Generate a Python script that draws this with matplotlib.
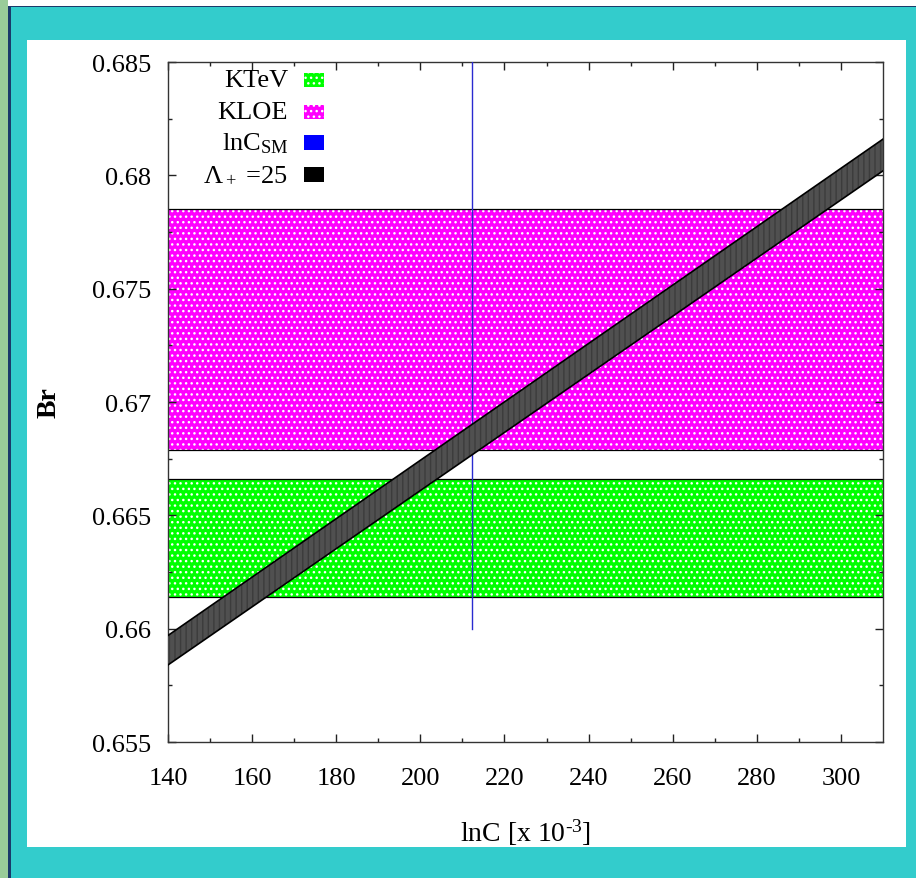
import matplotlib
matplotlib.use("Agg")
import numpy as np
import matplotlib.pyplot as plt
from matplotlib.patches import Rectangle

plt.rcParams["font.family"] = ["Liberation Serif", "DejaVu Serif"]
plt.rcParams["mathtext.fontset"] = "custom"
plt.rcParams["mathtext.rm"] = "Liberation Serif"
plt.rcParams["mathtext.it"] = "Liberation Serif"
plt.rcParams["hatch.linewidth"] = 1.0

# Data
x_range = [140, 310]
ktev_band = [0.6614, 0.6666]
kloe_band = [0.6679, 0.6785]
lnc_sm = 212.3
lnc_sm_ymax = 0.66
lam_x = [140, 310]
lam_low = [0.6584, 0.6802]
lam_high = [0.6597, 0.6816]
x_ticks = [140, 160, 180, 200, 220, 240, 260, 280, 300]
y_ticks = [0.655, 0.66, 0.665, 0.67, 0.675, 0.68, 0.685]
y_tick_labels = ["0.655", "0.66", "0.665", "0.67", "0.675", "0.68", "0.685"]
legend_labels = ["KTeV", "KLOE", r"lnC$_{\rm SM}$", r"$\Lambda_+$ =25"]

green = "#00ff00"
magenta = "#ff00ff"
blue = "#0000ff"
teal = "#33cccc"

fig = plt.figure(figsize=(9.16, 8.79), dpi=100, facecolor=teal)

# frame decorations
def frame_rect(x, y, w, h, color):
    fig.patches.append(Rectangle((x, y), w, h, transform=fig.transFigure,
                                 facecolor=color, edgecolor="none", zorder=-5))

frame_rect(0, 0.992, 1, 0.008, "white")
frame_rect(0, 0, 0.009, 1, "#99cc99")
frame_rect(0.009, 0, 0.0025, 0.992, "#1a3a6a")
frame_rect(0.009, 0.9905, 0.991, 0.0015, "#1a3a6a")
frame_rect(0.0295, 0.0353, 0.9595, 0.9181, "white")

ax = fig.add_axes([0.1834, 0.1547, 0.7806, 0.7736])
ax.set_zorder(2)
ax.set_facecolor("none")

xs = np.array(x_range)
# KTeV band
ax.fill_between(xs, ktev_band[0], ktev_band[1], facecolor=green, edgecolor="white",
                hatch="...", linewidth=0, zorder=1)
# KLOE band
ax.fill_between(xs, kloe_band[0], kloe_band[1], facecolor=magenta, edgecolor="white",
                hatch="...", linewidth=0, zorder=1)
for v in ktev_band + kloe_band:
    ax.axhline(v, color="black", linewidth=0.9, zorder=2)

# SM line
ax.plot([lnc_sm, lnc_sm], [0.685, lnc_sm_ymax], color="#2a2ad0", linewidth=1.0, zorder=3)

# Lambda band
ax.fill_between(lam_x, lam_low, lam_high, facecolor="#505050", edgecolor="#3c3c3c",
                hatch="|||", linewidth=0, zorder=4)
ax.plot(lam_x, lam_low, color="black", linewidth=1.2, zorder=5)
ax.plot(lam_x, lam_high, color="black", linewidth=1.2, zorder=5)

ax.set_xlim(x_range)
ax.set_ylim(0.655, 0.685)
ax.set_xticks(x_ticks)
ax.set_xticks(np.arange(150, 310, 20), minor=True)
ax.set_yticks(y_ticks)
ax.set_yticklabels(y_tick_labels)
ax.set_yticks(np.arange(0.6575, 0.685, 0.005), minor=True)
ax.tick_params(which="both", direction="in", top=True, right=True, labelsize=19,
               color="#222222", width=1.0)
ax.tick_params(which="major", length=6)
ax.tick_params(axis="y", which="major", pad=12)
ax.tick_params(axis="x", which="major", pad=18)
ax.tick_params(which="minor", length=3)
for s in ax.spines.values():
    s.set_linewidth(1.0)
    s.set_color("#333333")

ax.set_xlabel(r"lnC [x 10$^{\text{-3}}$]", fontsize=20, labelpad=20)
ax.set_ylabel("Br", fontsize=20, fontweight="bold", labelpad=22)

# legend
leg_faces = [green, magenta, blue, "black"]
leg_hatch = ["...", "...", None, None]
row_y = [0.973, 0.926, 0.881, 0.834]
for lab, fc, h, yy in zip(legend_labels, leg_faces, leg_hatch, row_y):
    ax.text(0.168, yy, lab, transform=ax.transAxes, ha="right", va="center",
            fontsize=19, zorder=6)
    ax.add_patch(Rectangle((0.190, yy - 0.010), 0.028, 0.021, transform=ax.transAxes,
                           facecolor=fc, edgecolor="white" if h else fc, hatch=h,
                           linewidth=0, zorder=6))

fig.savefig("out.png", dpi=100, facecolor=fig.get_facecolor())
